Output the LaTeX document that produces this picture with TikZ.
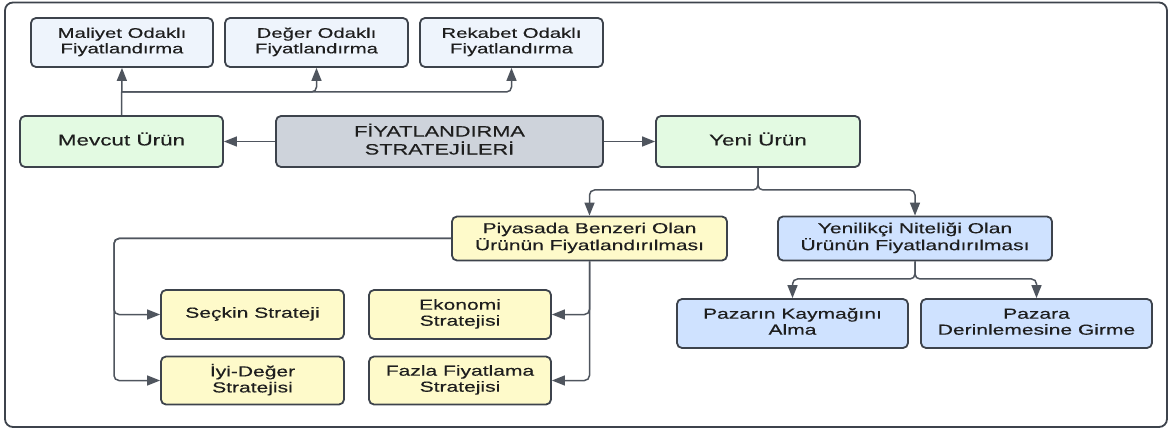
\documentclass[tikz,border=0pt]{standalone}
\usepackage{fontspec}
\setmainfont{Liberation Sans}
\newfontface\lblface{Liberation Sans}[FakeBold=0.25]
\usetikzlibrary{arrows.meta}
\definecolor{edge}{HTML}{3D434C}
\definecolor{wire}{HTML}{4F555E}
\definecolor{ink}{HTML}{1E1E1E}
\definecolor{paleblue}{HTML}{EEF4FC}
\definecolor{palegreen}{HTML}{E3FAE2}
\definecolor{slate}{HTML}{CED3DB}
\definecolor{paleyellow}{HTML}{FEFACA}
\definecolor{skyblue}{HTML}{CFE2FF}
% horizontally widened, centred multi-line label
\newcommand\lbl[1]{\scalebox{1.45}[1]{\begin{tabular}{@{}c@{}}#1\end{tabular}}}
\tikzset{
  box/.style={draw=edge, line width=1.8pt, rounded corners=5pt, inner sep=0pt,
              text=ink, font=\lblface\fontsize{14.5}{16}\selectfont},
  topbox/.style={box, fill=paleblue, font=\lblface\fontsize{14}{15.5}\selectfont},
  prodbox/.style={box, fill=palegreen, font=\lblface\fontsize{15.5}{17}\selectfont},
  mainbox/.style={box, fill=slate, font=\lblface\fontsize{15}{16.5}\selectfont},
  ybox/.style={box, fill=paleyellow},
  bbox/.style={box, fill=skyblue},
  conn/.style={draw=wire, line width=1.5pt, rounded corners=5pt,
               -{Triangle[length=13pt,width=10pt]}, color=wire},
  frame/.style={draw=edge, line width=1.8pt, rounded corners=8pt}
}
\begin{document}
\begin{tikzpicture}[x=1pt,y=-1pt]
\useasboundingbox (0,0) rectangle (1172,430);
\draw[frame] (5,2.5) rectangle (1167,427);

% top row: pricing approaches for an existing product
\node[topbox, minimum width=182pt, minimum height=49pt] (mal) at (122,42.5)
  {\lbl{Maliyet Odaklı\\Fiyatlandırma}};
\node[topbox, minimum width=183pt, minimum height=49pt] (deg) at (316.5,42.5)
  {\lbl{Değer Odaklı\\Fiyatlandırma}};
\node[topbox, minimum width=183pt, minimum height=49pt] (rek) at (511.5,42.5)
  {\lbl{Rekabet Odaklı\\Fiyatlandırma}};

% middle row
\node[prodbox, minimum width=203pt, minimum height=51pt] (mev) at (121.5,141.5)
  {\lbl{Mevcut Ürün}};
\node[mainbox, minimum width=327pt, minimum height=51pt] (fiy) at (439.5,141.5)
  {\lbl{FİYATLANDIRMA\\STRATEJİLERİ}};
\node[prodbox, minimum width=204pt, minimum height=51pt] (yeni) at (758,141.5)
  {\lbl{Yeni Ürün}};

% new product branches
\node[ybox, minimum width=275pt, minimum height=44pt] (piy) at (589.5,238.5)
  {\lbl{Piyasada Benzeri Olan\\Ürünün Fiyatlandırılması}};
\node[bbox, minimum width=274pt, minimum height=44pt] (yen) at (915,238.5)
  {\lbl{Yenilikçi Niteliği Olan\\Ürünün Fiyatlandırılması}};

% innovative product strategies
\node[bbox, minimum width=231pt, minimum height=49pt] (kay) at (792.5,323.5)
  {\lbl{Pazarın Kaymağını\\Alma}};
\node[bbox, minimum width=231pt, minimum height=49pt] (der) at (1036.5,323.5)
  {\lbl{Pazara\\Derinlemesine Girme}};

% similar product strategies
\node[ybox, minimum width=183pt, minimum height=49pt] (sec) at (252.5,314.5)
  {\lbl{Seçkin Strateji}};
\node[ybox, minimum width=182pt, minimum height=49pt] (eko) at (460,314.5)
  {\lbl{Ekonomi\\Stratejisi}};
\node[ybox, minimum width=183pt, minimum height=48pt] (iyi) at (252.5,380.5)
  {\lbl{İyi-Değer\\Stratejisi}};
\node[ybox, minimum width=182pt, minimum height=48pt] (faz) at (460,380.5)
  {\lbl{Fazla Fiyatlama\\Stratejisi}};

% junction points
\coordinate (j1) at (122,92);
\coordinate (j2) at (758,190);
\coordinate (j3) at (915,279);
\coordinate (xl) at (114,0);

% connectors
\draw[conn] (fiy.west) -- (mev.east);
\draw[conn] (fiy.east) -- (yeni.west);

\draw[conn] (mev.north) -- (mal.south);
\draw[conn] (j1) -| (deg.south);
\draw[conn] (j1) -| (rek.south);

\draw[conn] (yeni.south) -- (j2) -| (piy.north);
\draw[conn] (yeni.south) -- (j2) -| (yen.north);

\draw[conn] (yen.south) -- (j3) -| (kay.north);
\draw[conn] (yen.south) -- (j3) -| (der.north);

\draw[conn] (piy.west) -| (xl |- sec.west) -- (sec.west);
\draw[conn] (piy.west) -| (xl |- iyi.west) -- (iyi.west);
\draw[conn] (piy.south) |- (eko.east);
\draw[conn] (piy.south) |- (faz.east);
\end{tikzpicture}
\end{document}
